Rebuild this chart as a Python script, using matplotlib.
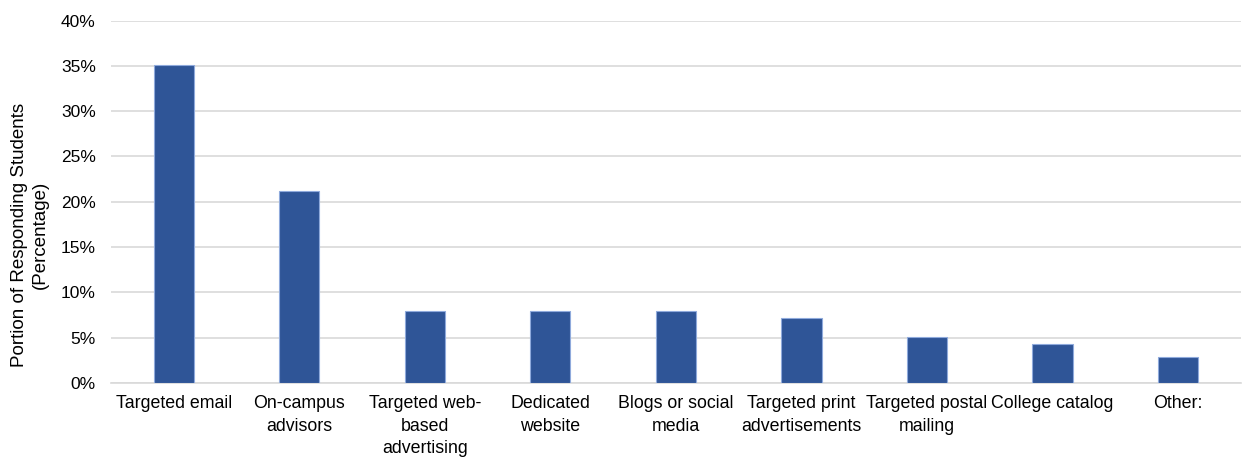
import numpy as np
import matplotlib
matplotlib.use("Agg")
from matplotlib import pyplot as plt
from matplotlib.ticker import FuncFormatter

plt.rcParams['font.family'] = ['Liberation Sans', 'DejaVu Sans']

# survey data
categories = ["Targeted email", "On-campus\nadvisors", "Targeted web-\nbased\nadvertising",
              "Dedicated\nwebsite", "Blogs or social\nmedia", "Targeted print\nadvertisements",
              "Targeted postal\nmailing", "College catalog", "Other:"]
values = [35.1, 21.2, 7.9, 7.9, 7.9, 7.2, 5.05, 4.3, 2.85]
y_ticks = [0, 5, 10, 15, 20, 25, 30, 35, 40]

fig = plt.figure(figsize=(12.42, 4.62), dpi=100)
ax = fig.add_axes([0.0894, 0.171, 0.9096, 0.7846])

x = np.arange(len(categories))
ax.bar(x, values, width=0.32, color='#2F5597', edgecolor='#8FAADC', linewidth=0.8, zorder=3)

ax.set_xlim(-0.5, len(categories) - 0.5)
ax.set_ylim(0, 40)
ax.set_yticks(y_ticks)
ax.yaxis.set_major_formatter(FuncFormatter(lambda v, p: f"{v:.0f}%"))
ax.grid(axis='y', color='#D9D9D9', linewidth=1.2, zorder=0)

ax.set_xticks(x)
ax.set_xticklabels(categories, fontsize=12.8, linespacing=1.4, va='top')
ax.tick_params(axis='y', labelsize=12.5, length=0, pad=11)
ax.tick_params(axis='x', length=0, pad=9)

for s in ['top', 'right', 'left']:
    ax.spines[s].set_visible(False)
ax.spines['bottom'].set_color('#D9D9D9')
ax.spines['bottom'].set_linewidth(1.2)

# y label placed by hand, like the reference
fig.text(30 / 1242, 1 - 235 / 462, "Portion of Responding Students\n(Percentage)",
         rotation=90, ha='center', va='center', multialignment='center',
         fontsize=13.5, linespacing=1.28)

fig.savefig("out.png", dpi=100)
